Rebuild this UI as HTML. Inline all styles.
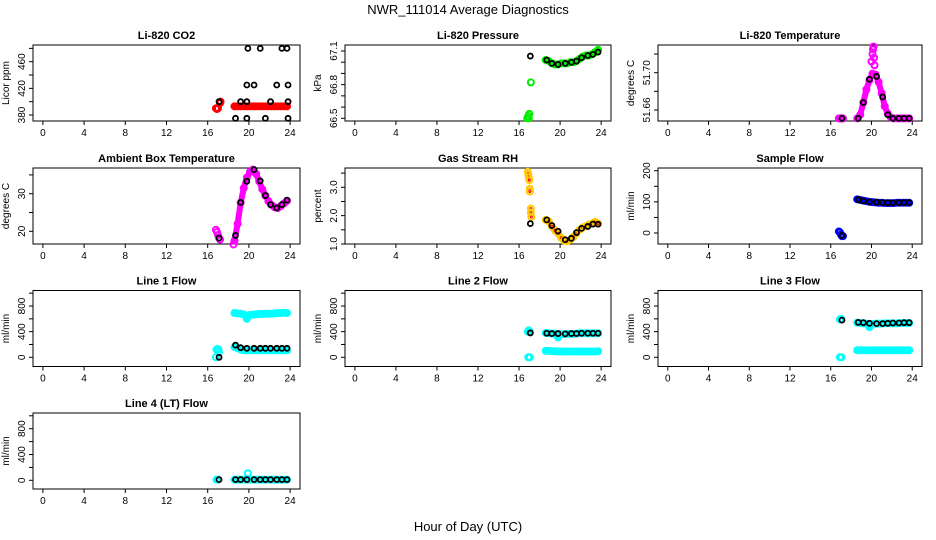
<!DOCTYPE html>
<html><head><meta charset="utf-8"><style>
body{margin:0;background:#fff}
svg{display:block;font-family:"Liberation Sans",sans-serif}
</style></head><body>
<svg id="chart" width="936" height="540" viewBox="0 0 936 540" xmlns="http://www.w3.org/2000/svg">
<rect width="936" height="540" fill="#fff"/>
<text x="468" y="14" text-anchor="middle" font-size="13">NWR_111014  Average Diagnostics</text>
<text x="468" y="531" text-anchor="middle" font-size="13">Hour of Day (UTC)</text>
</svg>
<script>
const xTicks=[0,4,8,12,16,20,24];
const bandHours=[18.6,18.9,19.2,19.5,19.8,20.1,20.4,20.7,21.0,21.3,21.6,21.9,22.2,22.5,22.8,23.1,23.4,23.7];
const blackHours=[17.1,18.7,19.2,19.8,20.5,21.1,21.6,22.1,22.7,23.2,23.7];

const co2Band=[393,393,393,393,393,393,393,393,393,393,393,393,393,393,393,393,393,393];
const co2EarlyHours=[16.8,16.9,17.0,17.2,17.25];
const co2EarlyValues=[390,389,390,398,400];
const co2Black=[400,375,400,400,425,480,375,400,425,480,480];
const co2ExtraHours=[19.8,19.8,19.9,23.8,23.8,23.8];
const co2ExtraValues=[375,425,480,425,400,375];

const presBand=[67.02,67.01,66.99,66.98,66.98,66.99,66.99,66.99,67.0,67.0,67.01,67.03,67.05,67.06,67.06,67.07,67.09,67.11];
const presEarlyHours=[16.8,16.9,17.0,16.95,17.15];
const presEarlyValues=[66.5,66.52,66.54,66.5,66.82];
const presBlack=[67.055,67.02,66.99,66.98,66.99,67.0,67.01,67.04,67.06,67.07,67.09];

const tempBand=[51.651,51.655,51.668,51.682,51.692,51.699,51.698,51.69,51.678,51.664,51.656,51.652,51.651,51.651,51.651,51.651,51.651,51.651];
const tempEarlyHours=[16.8,16.9,17.0,17.1,17.2];
const tempEarlyValues=[51.651,51.651,51.651,51.651,51.651];
const tempExtraHours=[20.0,20.1,20.15,20.2,20.25,20.3];
const tempExtraValues=[51.712,51.72,51.725,51.728,51.716,51.708];
const tempBlack=[51.651,51.651,51.668,51.693,51.696,51.674,51.655,51.651,51.651,51.651,51.651];

const ambBand=[17.5,22,27.5,31.5,34.3,35.8,36.4,35.3,33.3,31.2,29.5,28,27,26.4,26.2,26.7,27.4,28.1];
const ambEarlyHours=[16.8,16.9,17.0,17.1,17.2,18.5];
const ambEarlyValues=[20.4,19.8,19,18.3,17.8,16.5];
const ambBlack=[18.2,18.9,27.7,33.3,36.4,33.4,29.5,27.1,26.2,27.1,28.3];

const rhBand=[1.85,1.8,1.62,1.48,1.38,1.22,1.12,1.1,1.15,1.25,1.38,1.5,1.58,1.62,1.68,1.72,1.78,1.72];
const rhEarlyHours=[16.85,16.9,16.95,17.0,17.05,17.05,17.15,17.15,17.2];
const rhEarlyValues=[3.55,3.45,3.35,3.25,2.95,2.85,2.25,2.1,1.95];
const rhBlack=[1.72,1.85,1.65,1.45,1.15,1.2,1.4,1.55,1.62,1.7,1.7];

const sampBand=[108,106,104,102,100,99,98,97,97,96,96,96,96,97,97,97,97,97];
const sampEarlyHours=[16.8,16.9,17.0,17.1,17.2];
const sampEarlyValues=[5,2,-5,-10,-10];
const sampBlack=[-8,107,103,100,99,98,97,97,97,98,98];

const l1Upper=[690,685,680,670,600,660,665,670,675,675,680,680,680,685,690,690,695,690];
const l1Lower=[160,140,120,110,110,110,110,110,110,110,110,110,110,110,110,110,110,110];
const l1EarlyHours=[16.8,16.85,16.95,17.05,17.1];
const l1EarlyValues=[0,120,130,120,80];
const l1Black=[0,190,150,140,140,140,140,140,140,140,140];

const l2Upper=[380,375,370,370,310,360,360,365,365,365,370,375,375,375,375,375,375,375];
const l2Lower=[100,100,95,95,90,90,90,90,90,90,90,90,90,90,90,90,90,95];
const l2EarlyHours=[16.85,16.95,17.05,16.9,17.05];
const l2EarlyValues=[400,420,400,0,0];
const l2Black=[380,375,370,370,365,370,370,375,375,375,375];

const l3Upper=[540,535,530,525,470,520,525,525,525,530,530,530,530,530,535,535,535,535];
const l3Lower=[110,110,110,110,110,110,110,110,110,110,110,110,110,110,110,110,110,110];
const l3EarlyHours=[16.9,17.0,16.9,17.05];
const l3EarlyValues=[590,600,0,0];
const l3Black=[580,545,540,530,525,525,530,535,535,540,540];

const l4Band=[10,10,10,10,10,10,10,10,10,10,10,10,10,10,10,10,10,10];
const l4EarlyHours=[16.85,17.0,19.9];
const l4EarlyValues=[10,10,110];
const l4Black=[10,10,10,10,10,10,10,10,10,10,10];

const ticksCo2=[380,400,420,440,460,480], labelsCo2=["380","420","460"];
const ticksPres=[66.5,66.6,66.7,66.8,66.9,67.0,67.1], labelsPres=["66.5","66.8","67.1"];
const ticksTemp=[51.66,51.68,51.70,51.72], labelsTemp=["51.66","51.70"];
const ticksAmb=[20,25,30,35], labelsAmb=["20","30"];
const ticksRh=[1,1.5,2,2.5,3,3.5], labelsRh=["1.0","2.0","3.0"];
const ticksSamp=[0,50,100,150,200], labelsSamp=["0","100","200"];
const ticksFlow=[0,200,400,600,800,1000], labelsFlow=["0","400","800"];

const NS="http://www.w3.org/2000/svg";
const svg=document.getElementById('chart');
const cols=[{L:33,R:300},{L:345,R:611},{L:658,R:922}];
const rowTops=[45,168,290.5,413];
const H=76;
function mk(tag,attrs,parent){const e=document.createElementNS(NS,tag);for(const k in attrs)e.setAttribute(k,attrs[k]);(parent||svg).appendChild(e);return e;}

const panels=[
 {name:'co2',title:'Li-820 CO2',ylab:'Licor ppm',c:0,r:0,ref:[380,115,460,61.7],ticks:ticksCo2,labels:labelsCo2,color:'#ff0000',bands:[co2Band],eh:co2EarlyHours,ev:co2EarlyValues,black:co2Black,xh:co2ExtraHours,xv:co2ExtraValues,xColor:'#000'},
 {name:'pressure',title:'Li-820 Pressure',ylab:'kPa',c:1,r:0,ref:[66.5,118.3,67.1,51],ticks:ticksPres,labels:labelsPres,color:'#00ee00',bands:[presBand],eh:presEarlyHours,ev:presEarlyValues,black:presBlack},
 {name:'temperature',title:'Li-820 Temperature',ylab:'degrees C',c:2,r:0,ref:[51.66,110,51.70,72.7],ticks:ticksTemp,labels:labelsTemp,color:'#ff00ff',bands:[tempBand],eh:tempEarlyHours,ev:tempEarlyValues,black:tempBlack,xh:tempExtraHours,xv:tempExtraValues,xColor:'#ff00ff'},
 {name:'ambient-temp',title:'Ambient Box Temperature',ylab:'degrees C',c:0,r:1,ref:[20,231.3,30,193.7],ticks:ticksAmb,labels:labelsAmb,color:'#ff00ff',bands:[ambBand],eh:ambEarlyHours,ev:ambEarlyValues,black:ambBlack},
 {name:'gas-rh',title:'Gas Stream RH',ylab:'percent',c:1,r:1,ref:[1,244,3,187.3],ticks:ticksRh,labels:labelsRh,color:'#ffcc00',dot:'#ff0000',bands:[rhBand],eh:rhEarlyHours,ev:rhEarlyValues,black:rhBlack},
 {name:'sample-flow',title:'Sample Flow',ylab:'ml/min',c:2,r:1,ref:[0,233,200,170.7],ticks:ticksSamp,labels:labelsSamp,color:'#0000ff',bands:[sampBand],eh:sampEarlyHours,ev:sampEarlyValues,black:sampBlack},
 {name:'line1-flow',title:'Line 1 Flow',ylab:'ml/min',c:0,r:2,ref:[0,357.3,800,306],ticks:ticksFlow,labels:labelsFlow,color:'#00ffff',bands:[l1Upper,l1Lower],eh:l1EarlyHours,ev:l1EarlyValues,black:l1Black},
 {name:'line2-flow',title:'Line 2 Flow',ylab:'ml/min',c:1,r:2,ref:[0,357.3,800,306],ticks:ticksFlow,labels:labelsFlow,color:'#00ffff',bands:[l2Upper,l2Lower],eh:l2EarlyHours,ev:l2EarlyValues,black:l2Black},
 {name:'line3-flow',title:'Line 3 Flow',ylab:'ml/min',c:2,r:2,ref:[0,357.3,800,306],ticks:ticksFlow,labels:labelsFlow,color:'#00ffff',bands:[l3Upper,l3Lower],eh:l3EarlyHours,ev:l3EarlyValues,black:l3Black},
 {name:'line4-flow',title:'Line 4 (LT) Flow',ylab:'ml/min',c:0,r:3,ref:[0,480.3,800,428.7],ticks:ticksFlow,labels:labelsFlow,color:'#00ffff',bands:[l4Band],eh:l4EarlyHours,ev:l4EarlyValues,black:l4Black}
];

panels.forEach(p=>{
 const {L,R}=cols[p.c];const T=rowTops[p.r];const B=T+H;
 const g=mk('g',{});
 
 
 const x=h=>L+(h+0.96)/25.92*(R-L);
 const [v0,p0,v1,p1]=p.ref;
 const y=v=>p0+(v-v0)*(p1-p0)/(v1-v0);
 const box=mk('rect',{x:L,y:T,width:R-L,height:H,fill:'none',stroke:'#000','stroke-width':1},g);
 
 
 const t=mk('text',{x:(L+R)/2,y:T-6,'text-anchor':'middle','font-size':11,'font-weight':'bold'},g);
 t.textContent=p.title;
 
 
 const yl=mk('text',{x:0,y:0,'text-anchor':'middle','font-size':10,transform:`translate(${L-24},${(T+B)/2}) rotate(-90)`},g);
 yl.textContent=p.ylab;
 
 
 xTicks.forEach(h=>{
  const xx=x(h);
  mk('line',{x1:xx,y1:B,x2:xx,y2:B+4,stroke:'#000'},g);
  const tx=mk('text',{x:xx,y:B+15,'text-anchor':'middle','font-size':10},g);
  tx.textContent=h;
  
  
 });
 p.ticks.forEach(v=>{const yy=y(v);mk('line',{x1:L,y1:yy,x2:L-4,y2:yy,stroke:'#000'},g);});
 p.labels.forEach(s=>{
  const yy=y(parseFloat(s));
  const tl=mk('text',{x:0,y:0,'text-anchor':'middle','font-size':10,transform:`translate(${L-8},${yy}) rotate(-90)`},g);
  tl.textContent=s;
  
  
 });
 const circ=(h,v,col,w,r,name)=>{const c=mk('circle',{cx:x(h),cy:y(v),r:r||2.5,fill:'none',stroke:col,'stroke-width':w||1.5},g);
  
  return c;};
 p.bands.forEach(band=>{
  const pts=bandHours.map((h,i)=>x(h)+','+y(band[i])).join(' ');
  const pl=mk('polyline',{points:pts,fill:'none',stroke:p.color,'stroke-width':6,'stroke-linejoin':'round','stroke-linecap':'round'},g);
  
  
  bandHours.forEach((h,i)=>{circ(h,band[i],p.color,2,3,p.name+'-point'); if(p.dot)circ(h,band[i],p.dot,1,1,p.name+'-point-dot');});
 });
 p.eh.forEach((h,i)=>{circ(h,p.ev[i],p.color,2,3,p.name+'-point'); if(p.dot)circ(h,p.ev[i],p.dot,1,1,p.name+'-point-dot');});
 if(p.xh)p.xh.forEach((h,i)=>circ(h,p.xv[i],p.xColor,p.xColor==='#000'?1.8:2,p.xColor==='#000'?2.5:3,p.name+'-extra-point'));
 blackHours.forEach((h,i)=>circ(h,p.black[i],'#000',1.8,2.5,p.name+'-hourly-average'));
});
</script>
</body></html>
